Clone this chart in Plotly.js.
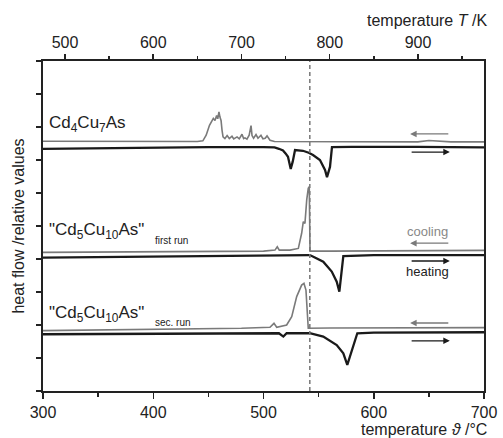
<!DOCTYPE html>
<html><head><meta charset="utf-8">
<script src="https://cdn.plot.ly/plotly-3.0.1.min.js"></script>
<style>html,body{margin:0;padding:0;background:#fff;}#chart{width:503px;height:438px;}</style>
</head><body><div id="chart"></div>
<script>
// Temperatures in °C, heat flow in relative units (0-100 scale of the frame)
const cd4Cool_T = [300,400,440,445,448,451,453,454.5,456,457.5,458.5,459.6,460.5,461.5,462.4,463.3,465,467,469,471.4,473,476,478,480.5,482,483.2,485,487,488.7,489.6,491,493.2,495,497.7,499.5,501.5,503.2,505.9,510,600,640,650,660,670,700];
const cd4Cool_Q = [75.7,75.6,75.6,75.8,77.5,80.5,81.8,82.6,82.0,83.5,82.5,84.6,83.0,82.0,79.0,77.0,76.5,77.4,76.5,77.2,76.4,77.0,76.4,77.8,76.5,76.7,76.3,77.5,80.4,77.4,76.6,77.7,76.6,77.5,76.4,76.6,77.3,76.0,75.6,75.5,75.5,75.9,75.7,75.5,75.5];
const cd4Heat_T = [300,350,400,450,500,510,514,517.7,520,522.2,524.7,526.5,528.6,535.8,541,544.9,551.2,555.8,557.6,560.3,562.1,580,640,700];
const cd4Heat_Q = [73.4,73.6,73.8,73.9,73.9,73.8,73.4,72.9,72.0,71.0,67.3,69.5,73.0,72.8,72.2,71.5,70.0,67.0,64.8,67.9,73.9,74.0,74.0,73.8];

const run1Cool_T = [300,400,500,510.4,512.5,514.3,524,531.6,534.6,536.1,537.6,539.2,540.6,541.5,542.2,560,700];
const run1Cool_Q = [42.0,42.2,42.4,42.7,43.7,42.7,42.7,43.2,47.8,51.3,50.8,57.9,61.4,61.9,42.4,42.4,42.6];
const run1Heat_T = [300,400,500,542,545.2,554.2,561.9,566.4,568.8,570.9,572.4,600,700];
const run1Heat_Q = [40.4,40.8,41.1,41.2,40.7,39.2,36.2,33.1,30.1,35.7,40.9,41.2,41.2];

const run2Cool_T = [300,400,480,505.9,509.5,512,521,525.6,530.1,534.6,536.7,538.5,540.6,560,700];
const run2Cool_Q = [18.3,18.6,19.0,19.3,20.5,19.3,20.0,22.5,28.6,32.1,32.6,30.6,19.0,19.1,19.2];
const run2Heat_T = [300,400,500,514,518,521,542,554.2,566.4,572.4,576,580,585.1,600,700];
const run2Heat_Q = [17.2,17.4,17.5,17.5,16.5,17.5,17.5,16.5,13.9,11.4,7.9,12.1,17.5,17.7,17.8];

const sampleLabels = ['Cd<sub>4</sub>Cu<sub>7</sub>As', '"Cd<sub>5</sub>Cu<sub>10</sub>As"', '"Cd<sub>5</sub>Cu<sub>10</sub>As"'];
const sampleLabelY = [81.0, 48.6, 23.4];
const runLabels = ['first run', 'sec. run'];
const runLabelY = [45.6, 20.8];
const coolArrowY = [77.9, 44.8, 20.6];
const heatArrowY = [72.4, 39.4, 15.2];
const arrowT = [633, 669];
const transitionT = 542;
const bottomTicks = [300, 400, 500, 600, 700];
const topTicks = [500, 600, 700, 800, 900];

const FONT = 'Arial, "Liberation Sans", sans-serif';
const GRAY = '#7a7a7a', BLACK = '#1a1a1a';

function tr(x, y, color, w) {
  return {x: x, y: y, type: 'scatter', mode: 'lines', line: {color: color, width: w, shape: 'linear'}, hoverinfo: 'skip', showlegend: false};
}
const data = [
  tr(cd4Cool_T, cd4Cool_Q, GRAY, 1.6),
  tr(cd4Heat_T, cd4Heat_Q, BLACK, 2.3),
  tr(run1Cool_T, run1Cool_Q, GRAY, 1.6),
  tr(run1Heat_T, run1Heat_Q, BLACK, 2.3),
  tr(run2Cool_T, run2Cool_Q, GRAY, 1.6),
  tr(run2Heat_T, run2Heat_Q, BLACK, 2.3)
];

const ann = [];
sampleLabels.forEach((t, i) => ann.push({text: t, x: 304, y: sampleLabelY[i], xref: 'x', yref: 'y', xanchor: 'left', yanchor: 'middle', showarrow: false, font: {family: FONT, size: 17, color: '#222'}}));
runLabels.forEach((t, i) => ann.push({text: t, x: 400, y: runLabelY[i], xref: 'x', yref: 'y', xanchor: 'left', yanchor: 'middle', showarrow: false, font: {family: FONT, size: 10, color: '#222'}}));
coolArrowY.forEach(y => ann.push({x: arrowT[0], y: y, ax: arrowT[1], ay: y, xref: 'x', yref: 'y', axref: 'x', ayref: 'y', text: '', showarrow: true, arrowhead: 2, arrowsize: 1, arrowwidth: 1.3, arrowcolor: GRAY}));
heatArrowY.forEach(y => ann.push({x: arrowT[1], y: y, ax: arrowT[0], ay: y, xref: 'x', yref: 'y', axref: 'x', ayref: 'y', text: '', showarrow: true, arrowhead: 2, arrowsize: 1, arrowwidth: 1.3, arrowcolor: BLACK}));
ann.push({text: 'cooling', x: 649, y: 48.2, xref: 'x', yref: 'y', showarrow: false, font: {family: FONT, size: 13, color: '#888'}});
ann.push({text: 'heating', x: 649, y: 36.1, xref: 'x', yref: 'y', showarrow: false, font: {family: FONT, size: 13, color: '#222'}});
ann.push({text: 'temperature <i>ϑ</i> /°C', x: 1, y: 0, xref: 'paper', yref: 'paper', xanchor: 'right', yanchor: 'top', xshift: 5, yshift: -28, showarrow: false, font: {family: FONT, size: 16, color: '#222'}});
ann.push({text: 'temperature <i>T</i> /K', x: 1, y: 1, xref: 'paper', yref: 'paper', xanchor: 'right', yanchor: 'bottom', xshift: 5, yshift: 30, showarrow: false, font: {family: FONT, size: 16, color: '#222'}});

const layout = {
  width: 503, height: 438,
  margin: {l: 43, r: 19, t: 61, b: 47},
  paper_bgcolor: '#fff', plot_bgcolor: '#fff',
  font: {family: FONT, size: 16, color: '#222'},
  xaxis: {range: [300, 700], tickvals: bottomTicks, ticks: 'outside', ticklen: 6, tickwidth: 1.5, tickcolor: '#222',
    minor: {dtick: 50, tick0: 300, ticks: 'outside', ticklen: 4, tickwidth: 1.5, tickcolor: '#222', showgrid: false},
    showgrid: false, zeroline: false, showline: true, linecolor: '#222', linewidth: 2, mirror: true,
    tickfont: {family: FONT, size: 16, color: '#222'}},
  xaxis2: {range: [475.1, 974.8], overlaying: 'x', side: 'top', anchor: 'y', tickvals: topTicks, ticks: 'outside', ticklen: 6, tickwidth: 1.5, tickcolor: '#222',
    minor: {dtick: 50, tick0: 500, ticks: 'outside', ticklen: 4, tickwidth: 1.5, tickcolor: '#222', showgrid: false},
    showgrid: false, zeroline: false, showline: false,
    tickfont: {family: FONT, size: 16, color: '#222'}},
  yaxis: {range: [0, 100], dtick: 10, tick0: 0, ticks: 'outside', ticklen: 5, tickwidth: 1.5, tickcolor: '#222', showticklabels: false,
    showgrid: false, zeroline: false, showline: true, linecolor: '#222', linewidth: 2, mirror: true,
    title: {text: 'heat flow /relative values', standoff: 7, font: {family: FONT, size: 16, color: '#222'}}},
  shapes: [{type: 'line', xref: 'x', yref: 'paper', x0: transitionT, x1: transitionT, y0: 0, y1: 1, line: {color: '#777', width: 1.5, dash: '4px,3px'}}],
  annotations: ann
};
// invisible trace to activate the Kelvin axis (same heating data shifted to K)
data.push({x: cd4Heat_T.map(t => t + 273.15), y: cd4Heat_Q, xaxis: 'x2', yaxis: 'y', type: 'scatter', mode: 'lines', line: {width: 0, color: 'rgba(0,0,0,0)'}, hoverinfo: 'skip', showlegend: false});
Plotly.newPlot('chart', data, layout, {staticPlot: true, displayModeBar: false});
</script>
</body></html>
